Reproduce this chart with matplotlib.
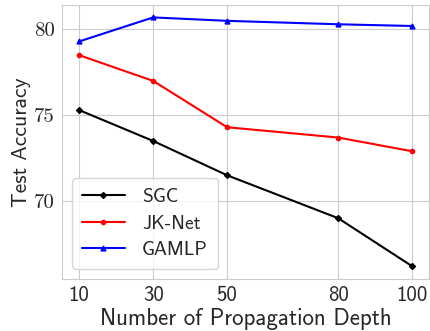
import matplotlib
matplotlib.use("Agg")
import matplotlib.pyplot as plt
import seaborn as sns

# depth values and test accuracy
depths = [10, 30, 50, 80, 100]
sgc = [75.3, 73.5, 71.5, 69.0, 66.2]
jknet = [78.5, 77.0, 74.3, 73.7, 72.9]
gamlp = [79.3, 80.7, 80.5, 80.3, 80.2]

sns.set_style("whitegrid")
plt.rcParams['font.family'] = ['cmss10', 'DejaVu Sans']
plt.rcParams['axes.unicode_minus'] = False

fig, ax = plt.subplots(figsize=(4.31, 3.31), dpi=100)

ax.plot(depths, sgc, color='black', marker='D', markersize=3, linewidth=1.5, label='SGC')
ax.plot(depths, jknet, color='red', marker='o', markersize=3, linewidth=1.5, label='JK-Net')
ax.plot(depths, gamlp, color='blue', marker='^', markersize=3.5, linewidth=1.5, label='GAMLP')

ax.set_xticks(depths)
ax.set_yticks([70, 75, 80])
ax.tick_params(axis='x', labelsize=15, pad=2)
ax.tick_params(axis='y', labelsize=15, pad=2)
for t in ax.get_yticklabels():
    t.set_family(['cmr10', 'DejaVu Serif'])
ax.set_xlabel("Number of Propagation Depth", fontsize=16.5, labelpad=2)
ax.set_ylabel("Test Accuracy", fontsize=15.5, labelpad=2)

for s in ax.spines.values():
    s.set_color('#cccccc')

ax.legend(loc='lower left', fontsize=14, handlelength=2.2, borderpad=0.5,
          labelspacing=0.45, handletextpad=0.9)

fig.subplots_adjust(left=0.145, right=0.995, top=0.985, bottom=0.158)
fig.savefig("out.png", dpi=100)
